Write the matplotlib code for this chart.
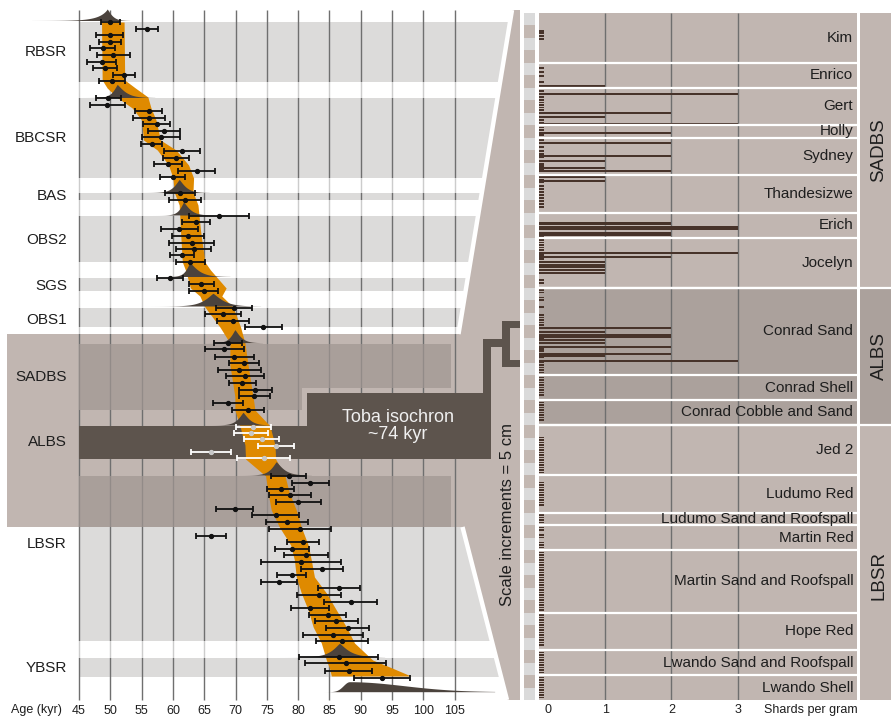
import numpy as np
import matplotlib
matplotlib.use("Agg")
import matplotlib.pyplot as plt
from matplotlib.patches import Polygon, Rectangle
from matplotlib.transforms import Affine2D

plt.rcParams['font.family'] = ['Liberation Sans', 'DejaVu Sans']

# ---------------------------------------------------------------- data
# OSL ages: vertical plotting position (stratigraphic row), age and 1-sigma (kyr)
osl_pos = [22, 29.3, 35, 42, 48.3, 55, 61.7, 68.3, 75.3, 81.3,
           98, 104.7, 111.3, 118, 124.3, 131, 137.3, 144.3, 151, 157.7, 164.3, 171, 177.3,
           192.7, 199.7,
           216, 222, 229.3, 235.7, 242.7, 248.7, 255.3, 262.3,
           278.3, 284, 290.7,
           307.7, 314, 320.7, 327.3,
           343.3, 349.3, 356.7, 363.3, 370, 376.3, 383.3, 390, 396.3, 403.3, 410,
           475.7, 482.7, 489.3, 495.3, 502.3, 509, 515.3, 522.3, 529.3, 535.7, 541.7,
           548.7, 555.3, 561.7, 568.7, 575, 581.7, 588, 594.7, 601.7, 608, 614.7,
           621.3, 628, 634.7, 641,
           657.3, 663.3, 670.7, 677.7]
osl_age = [50.0, 55.8, 49.9, 49.9, 48.8, 50.5, 48.6, 49.2, 52.2, 50.3,
           49.7, 49.5, 56.1, 56.2, 57.4, 58.6, 58.1, 56.6, 61.4, 60.5, 59.2, 63.8, 60.0,
           61.1, 62.0,
           67.3, 63.7, 61.0, 62.4, 63.0, 63.3, 61.4, 62.75,
           59.5, 64.5, 64.9,
           69.7, 68.0, 69.6, 74.45,
           68.8, 68.2, 69.8, 71.3, 70.6, 71.5, 71.1, 73.15, 73.0, 68.8, 72.0,
           78.5, 81.9, 77.2, 78.7, 80.0, 69.9, 76.4, 78.2, 80.3, 66.05, 80.8,
           79.0, 81.2, 80.5, 83.8, 79.0, 76.9, 86.5, 83.3, 88.4, 81.9, 84.7,
           86.1, 87.9, 85.5, 87.0,
           86.5, 87.6, 88.1, 93.4]
osl_err = [1.5, 1.75, 2.2, 1.75, 2.0, 2.7, 2.3, 1.9, 1.8, 2.1,
           2.0, 2.8, 2.2, 2.55, 2.2, 2.55, 3.0, 1.7, 2.9, 2.1, 2.3, 2.95, 2.0,
           2.4, 2.55,
           4.8, 2.3, 2.95, 2.5, 3.6, 2.8, 1.9, 2.3,
           2.1, 2.0, 2.3,
           2.9, 2.8, 2.6, 3.0,
           2.2, 3.1, 3.1, 2.4, 3.4, 3.0, 2.15, 2.6, 2.5, 2.4, 2.6,
           2.8, 2.95, 2.1, 3.35, 3.6, 2.95, 3.75, 3.4, 4.9, 2.4, 2.55,
           2.7, 3.5, 6.4, 3.4, 2.3, 2.9, 3.35, 3.5, 4.2, 3.0, 2.95,
           3.4, 3.4, 4.8, 4.2,
           6.3, 6.45, 3.75, 4.45]

# OSL ages within the Toba isochron layer (ALBS)
albs_pos = [426.7, 432.7, 439.3, 446, 451.7, 458.3]
albs_age = [72.8, 72.5, 74.2, 76.5, 66.05, 74.5]
albs_err = [2.8, 2.7, 2.8, 2.9, 3.2, 4.2]

# Bayesian age model envelope (95%): row, lower and upper age
band_pos = [22, 80, 88, 97, 108, 120, 140, 150, 165, 178, 192, 205, 230, 262, 270,
            288, 296, 307, 327, 343, 365, 397, 410, 426, 445, 459, 476, 493, 510,
            527, 545, 560, 577, 593, 610, 627, 643, 660, 668, 676]
band_lo = [48.6, 48.7, 49.5, 51.0, 53.5, 55.0, 55.3, 57.5, 59.3, 60.0, 60.2, 61.0, 61.2,
           61.5, 62.0, 62.8, 64.3, 65.1, 67.5, 69.1, 69.1, 69.9, 69.9, 70.7, 71.5, 71.6,
           74.8, 75.2, 75.7, 77.0, 78.8, 79.4, 79.7, 80.5, 81.6, 82.4, 83.7, 84.5, 85.0, 85.3]
band_hi = [52.2, 52.3, 54.0, 56.0, 56.5, 57.3, 58.0, 60.5, 62.5, 63.3, 63.2, 64.0, 64.4,
           65.1, 66.0, 68.5, 67.8, 69.6, 70.8, 71.5, 72.0, 72.8, 73.1, 75.5, 76.3, 76.4,
           77.9, 78.6, 79.7, 80.5, 81.6, 82.1, 82.6, 84.5, 86.1, 87.7, 89.0, 91.9, 95.0, 98.0]

# Modelled boundary ages: base row, mode, lower/upper spread (kyr), peak height, tail shapes
dens_pos = [20.5, 97.5, 192.5, 215, 276.5, 306, 342.7, 425, 475, 656.7, 691.7]
dens_mode = [49.5, 51.1, 61.0, 61.7, 62.7, 66.4, 69.9, 71.2, 76.5, 86.6, 88.2]
dens_sd_lo = [1.5, 0.9, 1.1, 0.8, 0.8, 1.8, 0.9, 1.1, 1.1, 1.6, 1.4]
dens_sd_hi = [0.9, 1.5, 1.2, 1.2, 1.6, 1.9, 1.1, 1.2, 1.4, 1.8, 12.2]
dens_height = [11.5, 13, 13, 13, 14, 12.7, 13, 12.7, 13.3, 13.4, 10]
dens_p_lo = [0.9, 1.2, 1.2, 1.2, 1.2, 1.2, 1.2, 1.2, 1.2, 1.2, 2.0]
dens_p_hi = [1.2, 1.2, 1.2, 1.2, 1.2, 1.2, 1.2, 1.2, 1.2, 1.2, 2.0]

age_ticks = [45, 50, 55, 60, 65, 70, 75, 80, 85, 90, 95, 100, 105]

unit_names = ['RBSR', 'BBCSR', 'BAS', 'OBS2', 'SGS', 'OBS1', 'SADBS', 'ALBS', 'LBSR', 'YBSR']
unit_label_pos = [52, 138, 196.5, 240, 285.5, 320, 377, 442, 544, 668]

# Cryptotephra counts (right panel): depth (cm below top of section) and shards per gram
shard_depth = [29.3, 32.5, 40.2, 41.7, 44.5, 48.1, 52.1, 57.2, 59.4, 62.3, 63.3, 65.9,
               67.5, 84.0, 84.6, 85.9, 86.5, 88.2, 88.8, 96.1, 97.7, 99.6, 100.8, 101.9,
               103.0, 104.1, 126.3, 127.7, 129.0, 129.8, 131.0, 132.3, 133.7, 136.6,
               137.4, 139.3]
shard_count = [1, 3, 2, 1, 3, 2, 2, 2, 1, 1, 2, 1,
               1, 2, 2, 3, 3, 2, 2, 3, 2, 1, 1, 1,
               1, 1, 2, 1, 2, 2, 1, 1, 2, 2,
               1, 3]
# Samples with trace amounts of glass
trace_depth = [7.3, 8.3, 9.4, 10.5,
               22.3, 23.7, 25.3, 27.7,
               31.3, 33.7, 34.9, 36, 37, 38, 39, 40.2, 43, 44,
               46, 47, 48, 49,
               51, 53.7, 55.3, 56.5, 58, 60.5, 61.5, 62.5, 63.5,
               65, 66, 67, 68, 69.5, 70.7, 71.9, 73.1, 74.3, 75.5, 76.7, 77.9,
               89.6, 91, 92, 93, 94, 95, 97, 98.5, 107, 108.3,
               111, 112, 114, 115, 117.7, 121, 122, 123, 124, 125, 128, 130.5,
               134.5, 135.3, 138, 140, 141, 142, 143, 144,
               146, 147, 148, 149, 150, 151, 152, 153,
               155, 156, 157, 158, 159, 160, 161, 162, 163,
               170, 171, 172, 173, 174, 175, 176, 177, 178, 179, 180, 181, 182, 183, 184,
               188, 189, 190, 191, 192, 193, 194, 195, 196, 197,
               201, 202, 203, 204,
               206, 207, 209, 210, 212, 213, 214,
               216, 217, 218, 219, 220, 221, 222, 223, 224, 225, 226, 227, 228, 229,
               230, 231, 232, 233, 234, 235, 236, 237, 238, 239,
               240, 241, 242, 243, 244, 245, 246, 247, 248, 249, 250, 251, 252, 253,
               256, 257, 258, 259, 260, 261, 262, 263, 264,
               266, 267, 268, 269, 270, 271, 272, 273, 274]
TRACE = 0.07

sub_units = ['Kim', 'Enrico', 'Gert', 'Holly', 'Sydney', 'Thandesizwe', 'Erich', 'Jocelyn',
             'Conrad Sand', 'Conrad Shell', 'Conrad Cobble and Sand', 'Jed 2',
             'Ludumo Red', 'Ludumo Sand and Roofspall', 'Martin Red',
             'Martin Sand and Roofspall', 'Hope Red', 'Lwando Sand and Roofspall',
             'Lwando Shell']
sub_bounds = [0, 20, 30, 45, 50, 65, 80, 90, 110, 145, 155, 165, 185, 200, 205, 215,
              240, 255, 265, 275]
groups = ['SADBS', 'ALBS', 'LBSR']
group_bounds = [0, 110, 165, 275]
group_label_depth = [55, 137.5, 225]
shard_ticks = [0, 1, 2, 3]

# ---------------------------------------------------------------- style
GREY_BAND = '#dcdbda'
BROWN = '#c1b6b1'
BROWN_DARK = '#aba19c'
BROWN_DARK_A = '#a19792'
TOBA = '#5d544d'
ORANGE = '#df8a00'
DENS = '#4b433d'
BAR = '#47332a'
GRID = '#6f6f6f'
TEXT = '#1e1e1e'

W, H = 891, 720
fig = plt.figure(figsize=(W / 100, H / 100), dpi=100)
PX = Affine2D().scale(1 / W, -1 / H).translate(0, 1) + fig.transFigure

ax = fig.add_axes([0, 0, 1, 1])
ax.set_axis_off()
X0, X105 = 79.0, 454.7
k = (X105 - X0) / 60.0
ax.set_xlim(45 - X0 / k, 45 + (W - X0) / k)
ax.set_ylim(H, 0)


def px_rect(x0, y0, x1, y1, **kw):
    ax.add_patch(Rectangle((x0, y0), x1 - x0, y1 - y0, transform=PX, lw=0, **kw))


def px_poly(pts, **kw):
    ax.add_patch(Polygon(pts, closed=True, transform=PX, lw=0, **kw))


# unit bands
for y0, y1 in [(22.3, 81.7), (97.7, 177.7), (192.7, 200), (216, 262.3), (278.3, 290.7),
               (307.7, 327.3), (527, 641), (657.7, 677.3)]:
    px_rect(X0, y0, 520, y1, color=GREY_BAND, zorder=1)

# highlighted section linking to the tephra column
px_poly([(512, 10), (520, 10), (520, 700), (507, 700), (462.5, 527), (7, 527),
         (7, 334), (458.5, 334)], color=BROWN, zorder=1.1)

# age grid
ax.vlines(age_ticks, 10, 700, color=GRID, lw=1.0, zorder=2)

# gaps between units wash out the grid
for y0, y1 in [(81.7, 97.7), (177.7, 192.7), (200, 216), (262.3, 278.3),
               (290.7, 307.7), (327.3, 334), (641, 657.7)]:
    px_rect(X0 - 2, y0, 457, y1, color='white', alpha=0.65, zorder=2.2)

# SADBS and LBSR boxes
px_poly([(X0, 344), (451, 344), (451, 388), (302, 388), (302, 410), (X0, 410)],
        color=BROWN_DARK_A, alpha=0.72, zorder=2.3)
px_rect(X0, 476, 451, 527, color=BROWN_DARK_A, alpha=0.72, zorder=2.3)

# slanted separators
ax.plot([512, 458.5], [10, 334], transform=PX, color='white', lw=3.2, zorder=2.5,
        solid_capstyle='butt')
ax.plot([462.5, 507], [527, 700], transform=PX, color='white', lw=3.2, zorder=2.5,
        solid_capstyle='butt')

# Toba isochron marker and bracket to the tephra peak
px_poly([(X0, 426), (307, 426), (307, 392.7), (490.7, 392.7), (490.7, 459.3), (X0, 459.3)],
        color=TOBA, zorder=2.6)
px_rect(483.3, 339.3, 490.7, 393, color=TOBA, zorder=2.6)
px_rect(483.3, 339.3, 510, 346.7, color=TOBA, zorder=2.6)
px_rect(502.3, 320.7, 510, 367.3, color=TOBA, zorder=2.6)
px_rect(502.3, 320.7, 519.5, 328.3, color=TOBA, zorder=2.6)
px_rect(502.3, 360, 519.5, 367.3, color=TOBA, zorder=2.6)
ax.text(398, 426, 'Toba isochron\n~74 kyr', transform=PX, ha='center', va='center',
        fontsize=13, color='#f0f0f0', linespacing=1.0, zorder=6)

# age model envelope
ax.fill_betweenx(band_pos, band_lo, band_hi, color=ORANGE, lw=0, zorder=3)

# boundary age distributions
for base, m, slo, shi, h, plo, phi in zip(dens_pos, dens_mode, dens_sd_lo, dens_sd_hi,
                                          dens_height, dens_p_lo, dens_p_hi):
    upper = 1.9 * shi if phi >= 2 else 4 * shi
    a = np.linspace(m - 8 * slo, m + upper, 600)
    d = a - m
    s = np.where(d < 0, slo, shi)
    p = np.where(d < 0, plo, phi)
    f = h * np.exp(-np.abs(d / s) ** p)
    ax.fill_between(a, base - f, base, color=DENS, lw=0, zorder=4)

# OSL ages
ax.errorbar(osl_age, osl_pos, xerr=osl_err, fmt='o', ms=2.8, mfc='#111111', mec='#111111',
            ecolor='#111111', elinewidth=1.3, capsize=2.3, capthick=1.3, zorder=5)
ax.errorbar(albs_age, albs_pos, xerr=albs_err, fmt='o', ms=2.8, mfc='#c8c8c8',
            mec='#c8c8c8', ecolor='white', elinewidth=1.3, capsize=2.3, capthick=1.3,
            zorder=5)

# unit labels and age axis
for name, y in zip(unit_names, unit_label_pos):
    ax.text(67, y, name, transform=PX, ha='right', va='center', fontsize=11, color=TEXT,
            zorder=6)
for t in age_ticks:
    ax.text(t, 710.5, str(t), ha='center', va='center', fontsize=9, color=TEXT)
ax.text(11, 710.5, 'Age (kyr)', transform=PX, ha='left', va='center', fontsize=9,
        color=TEXT)
ax.text(508, 514, 'Scale increments = 5 cm', transform=PX, rotation=90, ha='center',
        va='center', fontsize=12, color=TEXT)

# 5-cm scale column
for i in range(55):
    px_rect(524, 12.5 + 12.5 * i, 535, 12.5 + 12.5 * (i + 1),
            color='#dadada' if i % 2 == 0 else '#c3b8b2', zorder=1)

# ---------------------------------------------------------------- tephra panel
SX0, SX1 = 539.0, 857.3
SY0, SY1 = 12.5, 700.0
upx = 66.2
xmax = (SX1 - SX0) / upx
ax2 = fig.add_axes([SX0 / W, 1 - SY1 / H, (SX1 - SX0) / W, (SY1 - SY0) / H])
ax2.set_axis_off()
ax2.set_xlim(0, xmax)
ax2.set_ylim(275, 0)

ax2.axhspan(0, 275, color=BROWN, lw=0, zorder=0)
ax2.axhspan(group_bounds[1], group_bounds[2], color=BROWN_DARK, lw=0, zorder=0.5)
ax2.vlines(shard_ticks[1:], 0, 275, color=GRID, lw=1.0, zorder=1)

ax2.barh(trace_depth, TRACE, height=0.7, color=BAR, lw=0, zorder=3)
ax2.barh(shard_depth, shard_count, height=0.8, color=BAR, lw=0, zorder=3)

ax2.hlines(sub_bounds[1:-1], 0, xmax, color='white', lw=1.6, zorder=4)
for name, top, bot in zip(sub_units, sub_bounds[:-1], sub_bounds[1:]):
    ax2.text(xmax - 0.06, (top + bot) / 2, name, ha='right', va='center', fontsize=11,
             color=TEXT, zorder=5)

# group column
gx0 = (859.5 - SX0) / upx
gx1 = (W - SX0) / upx
for name, top, bot, ly in zip(groups, group_bounds[:-1], group_bounds[1:],
                              group_label_depth):
    ax2.add_patch(Rectangle((gx0, top), gx1 - gx0, bot - top, lw=0, clip_on=False,
                            color=BROWN_DARK if name == 'ALBS' else BROWN, zorder=0))
    ax2.text((879 - SX0) / upx, ly, name, rotation=90, ha='center',
             va='center', fontsize=13.5, color=TEXT, clip_on=False)
ax2.hlines(group_bounds[1:-1], 0, gx1, color='white', lw=1.6, zorder=4, clip_on=False)

for v in shard_ticks:
    ax2.text(v + (0.13 if v == 0 else 0), 279, str(v), ha='center', va='center',
             fontsize=9, color=TEXT, clip_on=False)
ax2.text(xmax, 279, 'Shards per gram', ha='right', va='center', fontsize=9, color=TEXT,
         clip_on=False)

fig.savefig('out.png', dpi=100)
